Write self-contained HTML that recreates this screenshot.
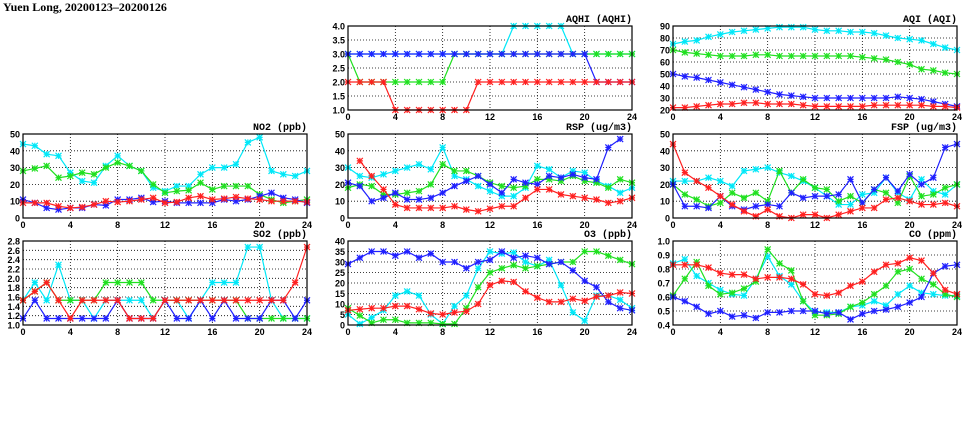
<!DOCTYPE html>
<html><head><meta charset="utf-8">
<style>
body{margin:0;background:#fff;width:975px;height:447px;overflow:hidden}
svg{display:block}
</style></head>
<body>
<svg id="chart" width="975" height="447" xmlns="http://www.w3.org/2000/svg">
<text x="3" y="11" font-family="Liberation Serif, serif" font-weight="bold" font-size="12">Yuen Long, 20200123–20200126</text>
</svg>
<script>
const hours=[0,1,2,3,4,5,6,7,8,9,10,11,12,13,14,15,16,17,18,19,20,21,22,23,24];
const xTicks=[0,4,8,12,16,20,24];
const colors=['#00e8f8','#20e020','#2020ff','#ff2020'];

const no2Cyan=[44,43,38,37,27,22,21,31,37,31,28,18,16,19,19,26,30,30,32,45,48,28,26,25,28];
const no2Green=[28,29.5,31,24,25,27,26,30,33,31,28,20,15,16,16.5,21,17,19,19,19,14,11,9,10,11];
const no2Blue=[11,9,6,5,6,6,8,7.5,11,11,12,9.5,10,9,9,9,9,11,10,11,13,15,12,11,9];
const no2Red=[9,9,9,7,6,6.5,8,10,9.5,10,11,12,9,9.5,12,13,11,11.5,12.5,11.5,11,10,10,10,9.5];

const aqhiCyan=[3,3,3,3,3,3,3,3,3,3,3,3,3,3,4,4,4,4,4,3,3,3,3,3,3];
const aqhiGreen=[3,2,2,2,2,2,2,2,2,3,3,3,3,3,3,3,3,3,3,3,3,3,3,3,3];
const aqhiBlue=[3,3,3,3,3,3,3,3,3,3,3,3,3,3,3,3,3,3,3,3,3,2,2,2,2];
const aqhiRed=[2,2,2,2,1,1,1,1,1,1,1,2,2,2,2,2,2,2,2,2,2,2,2,2,2];

const aqiCyan=[75,77,78,81,83,85,86,87,88,89,89,89,87,86,86,85,85,84,82,80,79,78,75,72,70];
const aqiGreen=[70,68,67,66,65,65,65,66,66,65,65,65,65,65,65,65,64,63,62,60,58,54,53,51,50];
const aqiBlue=[50,48,47,45,43,41,39,37,35,33,32,31,30,30,30,30,30,30,30,31,30,29,27,25,23];
const aqiRed=[22,22,23,24,25,25,26,26,25,25,25,24,23,23,23,23,23,24,24,24,24,24,23,23,22];

const rspCyan=[30,25,24,26,28,30,32,29,42,25,23,19,16,13,13,18,31,29,24,28,27,22,19,15,18];
const rspGreen=[18,20,19,14,14,15,16,20,32,28,28,25,21,19,18,19,23,23,22,25,22,21,18,23,21];
const rspBlue=[21,19,10,12,15,11,11,12,15,19,22,25,20,15,23,21,20,25,24,26,24,23,42,47,null];
const rspRed=[null,34,25,17,8,6,6,6,6,7,5,4,5.5,7,7,12,17,17,14,13,12,11,9,10,12];

const fspCyan=[22,22,22,24,22,19,28,29,30,27,25,22,18,13,8,8,14,15,24,15,11,23,16,14,20];
const fspGreen=[20,14,11,7,9,15,12,15,10,28,15,23,18,17,10,13,9,17,15,9,25,13,14,18,20];
const fspBlue=[20,7,7,6,13,7,5,7,8,7,15,12,13,13,14,23,9,17,24,16,26,20,24,42,44];
const fspRed=[44,27,22,18,13,8,4,1,5,1,0,2,2,0,2,4,6,6,11,12,10,8,8,9,7];

const so2Cyan=[1.53,1.91,1.53,2.29,1.53,1.53,1.14,1.53,1.53,1.53,1.53,1.14,1.53,1.53,1.14,1.53,1.91,1.91,1.91,2.67,2.67,1.53,1.14,1.14,1.14];
const so2Green=[1.53,1.72,1.91,1.53,1.53,1.53,1.53,1.91,1.91,1.91,1.91,1.53,1.53,1.53,1.53,1.53,1.53,1.53,1.53,1.14,1.14,1.14,1.14,1.14,1.14];
const so2Blue=[1.14,1.53,1.14,1.14,1.14,1.14,1.14,1.14,1.53,1.14,1.14,1.14,1.53,1.14,1.14,1.53,1.14,1.53,1.14,1.14,1.14,1.53,1.53,1.14,1.53];
const so2Red=[1.53,1.72,1.91,1.53,1.14,1.53,1.53,1.53,1.53,1.14,1.14,1.14,1.53,1.53,1.53,1.53,1.53,1.53,1.53,1.53,1.53,1.53,1.53,1.91,2.67];

const o3Cyan=[5,0.5,3.5,7,14,16,14,5,0.5,9,14,27,35,34,34.5,30,28,31,19,6,2,14,14,12,8];
const o3Green=[8,4.5,1,2.5,2.5,1,1,1,0.5,0.5,8,18,25,27,28.5,27,28,29,30,30,35,35,33,31,29];
const o3Blue=[29,32,35,35,33,35,32,34,30,30,27,30,31,35,32,33,32,29,30,26,21,18,11,8,7];
const o3Red=[7,7.5,8,8,9,9,7.5,5.5,5,6,6.5,10,19,21,20.5,16,13,11,11,12.5,11.5,13.5,14,15.5,15];

const coCyan=[0.84,0.87,0.75,0.70,0.65,0.62,0.61,0.73,0.89,0.75,0.69,0.57,0.49,0.49,0.49,0.53,0.54,0.57,0.54,0.62,0.68,0.63,0.62,0.61,0.61];
const coGreen=[0.61,0.73,0.85,0.68,0.62,0.63,0.66,0.71,0.94,0.84,0.79,0.57,0.47,0.47,0.48,0.53,0.56,0.62,0.68,0.78,0.80,0.73,0.69,0.62,0.60];
const coBlue=[0.60,0.57,0.53,0.48,0.50,0.46,0.47,0.45,0.49,0.49,0.50,0.50,0.50,0.48,0.49,0.44,0.48,0.50,0.51,0.53,0.56,0.60,0.77,0.82,0.83];
const coRed=[0.83,0.83,0.83,0.81,0.77,0.76,0.76,0.73,0.74,0.74,0.73,0.69,0.62,0.61,0.63,0.68,0.71,0.78,0.83,0.84,0.88,0.86,0.77,0.65,0.62];

const no2Ticks=[0,10,20,30,40,50];
const aqhiTicks=[1.0,1.5,2.0,2.5,3.0,3.5,4.0];
const aqiTicks=[20,30,40,50,60,70,80,90];
const pmTicks=[0,10,20,30,40,50];
const so2Ticks=[1.0,1.2,1.4,1.6,1.8,2.0,2.2,2.4,2.6,2.8];
const o3Ticks=[0,5,10,15,20,25,30,35,40];
const coTicks=[0.4,0.5,0.6,0.7,0.8,0.9,1.0];

const NS='http://www.w3.org/2000/svg';
const svg=document.getElementById('chart');
function mk(tag,attrs,parent){const e=document.createElementNS(NS,tag);for(const k in attrs)e.setAttribute(k,attrs[k]);(parent||svg).appendChild(e);return e;}

const panels=[
 {name:'no2',title:'NO2 (ppb)',x:23,y:134,ticks:no2Ticks,dec:0,series:[no2Cyan,no2Green,no2Blue,no2Red]},
 {name:'aqhi',title:'AQHI (AQHI)',x:348,y:26,ticks:aqhiTicks,dec:1,series:[aqhiCyan,aqhiGreen,aqhiBlue,aqhiRed]},
 {name:'aqi',title:'AQI (AQI)',x:673,y:26,ticks:aqiTicks,dec:0,series:[aqiCyan,aqiGreen,aqiBlue,aqiRed]},
 {name:'rsp',title:'RSP (ug/m3)',x:348,y:134,ticks:pmTicks,dec:0,series:[rspCyan,rspGreen,rspBlue,rspRed]},
 {name:'fsp',title:'FSP (ug/m3)',x:673,y:134,ticks:pmTicks,dec:0,series:[fspCyan,fspGreen,fspBlue,fspRed]},
 {name:'so2',title:'SO2 (ppb)',x:23,y:241,ticks:so2Ticks,dec:1,series:[so2Cyan,so2Green,so2Blue,so2Red]},
 {name:'o3',title:'O3 (ppb)',x:348,y:241,ticks:o3Ticks,dec:0,series:[o3Cyan,o3Green,o3Blue,o3Red]},
 {name:'co',title:'CO (ppm)',x:673,y:241,ticks:coTicks,dec:1,series:[coCyan,coGreen,coBlue,coRed]}
];
const W=284,H=84;
const seriesNames=['cyan','green','blue','red'];
panels.forEach(p=>{
 const g=mk('g',{});
 
 
 const ymin=p.ticks[0],ymax=p.ticks[p.ticks.length-1];
 const sx=v=>p.x+v/24*W;
 const sy=v=>p.y+H-(v-ymin)/(ymax-ymin)*H;
 // grid
 xTicks.forEach(t=>{
  if(t>0&&t<24){const l=mk('line',{x1:sx(t),x2:sx(t),y1:p.y,y2:p.y+H,stroke:'#000','stroke-width':0.8,'stroke-dasharray':'1,2'},g);
  }
  const tx=mk('text',{x:sx(t),y:p.y+H+10,'text-anchor':'middle','font-family':'Liberation Sans, sans-serif','font-weight':'bold','font-size':'9'},g);
  tx.textContent=t;
  
 });
 p.ticks.forEach((t,i)=>{
  if(i>0&&i<p.ticks.length-1){const l=mk('line',{x1:p.x,x2:p.x+W,y1:sy(t),y2:sy(t),stroke:'#000','stroke-width':0.8,'stroke-dasharray':'1,2'},g);
  }
  const tx=mk('text',{x:p.x-3,y:sy(t)+3.5,'text-anchor':'end','font-family':'Liberation Sans, sans-serif','font-weight':'bold','font-size':'9'},g);
  tx.textContent=t.toFixed(p.dec);
  
 });
 p.series.forEach((data,si)=>{
  const c=colors[si];
  const pts=[];
  data.forEach((v,i)=>{if(v!==null)pts.push([sx(hours[i]),sy(v)]);});
  const pl=mk('polyline',{points:pts.map(q=>q.join(',')).join(' '),fill:'none',stroke:c,'stroke-width':1.2},g);
  
  
  pts.forEach(q=>{
   const s=3;
   const m=mk('path',{d:`M${q[0]-s},${q[1]-s}L${q[0]+s},${q[1]+s}M${q[0]-s},${q[1]+s}L${q[0]+s},${q[1]-s}M${q[0]-s},${q[1]}L${q[0]+s},${q[1]}M${q[0]},${q[1]-s}L${q[0]},${q[1]+s}`,stroke:c,'stroke-width':1.2,fill:'none'},g);
   
   
  });
 });
 const fr=mk('rect',{x:p.x,y:p.y,width:W,height:H,fill:'none',stroke:'#000','stroke-width':1.2},g);
 
 const tt=mk('text',{x:p.x+W,y:p.y-4,'text-anchor':'end','font-family':'Liberation Mono, monospace','font-weight':'bold','font-size':'10'},g);
 tt.textContent=p.title;
 
});
</script>
</body></html>
